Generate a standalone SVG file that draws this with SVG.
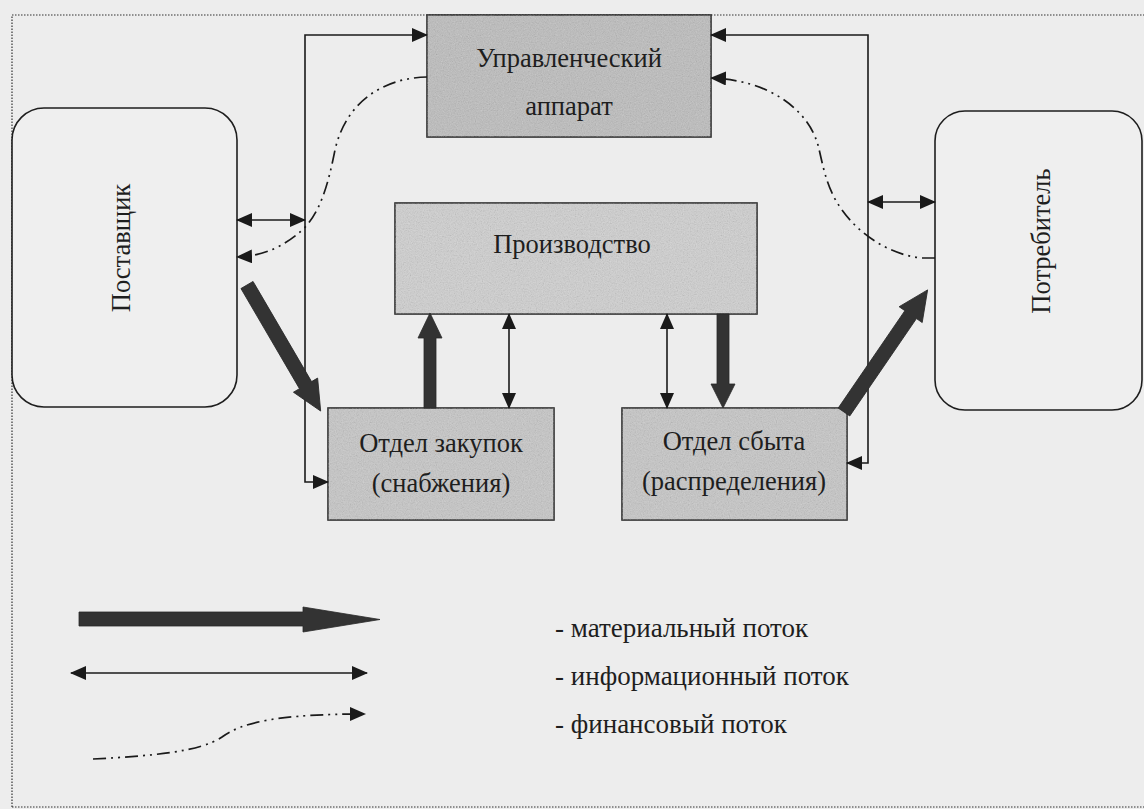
<svg xmlns="http://www.w3.org/2000/svg" width="1144" height="809" viewBox="0 0 1144 809">
  <defs>
    <style>
      .lbl { font-family: "Liberation Serif", "Times New Roman", serif; font-size: 26.5px; fill: #1e1e1e; }
      .leg { font-family: "Liberation Serif", "Times New Roman", serif; font-size: 27px; fill: #1e1e1e; }
      .box { stroke: #2a2a2a; stroke-width: 1.6; }
      .rnd { fill: #efefef; stroke: #1e1e1e; stroke-width: 1.6; }
      .info { fill: none; stroke: #1a1a1a; stroke-width: 1.6; marker-start: url(#ah); marker-end: url(#ah); }
      .fin { fill: none; stroke: #1a1a1a; stroke-width: 1.7; stroke-dasharray: 13 5 2 5 2 5; marker-end: url(#ah); }
      .mat { fill: #333333; stroke: #2a2a2a; stroke-width: 0.8; }
      .frame { fill: none; stroke: #333; stroke-width: 1.2; stroke-dasharray: 1.5 1.5; }
    </style>
    <marker id="ah" viewBox="0 0 16 14" refX="15" refY="7" markerWidth="16" markerHeight="14" markerUnits="userSpaceOnUse" orient="auto-start-reverse">
      <path d="M0,0 L16,7 L0,14 z" fill="#1a1a1a"/>
    </marker>
    <filter id="grain" x="0" y="0" width="1" height="1">
      <feTurbulence type="fractalNoise" baseFrequency="0.85" numOctaves="2" seed="4" result="n"/>
      <feColorMatrix in="n" type="saturate" values="0" result="g"/>
      <feComponentTransfer in="g" result="ga">
        <feFuncA type="table" tableValues="0 0.45"/>
      </feComponentTransfer>
      <feComposite in="ga" in2="SourceGraphic" operator="in"/>
    </filter>
  </defs>

  <rect x="0" y="0" width="1144" height="809" fill="#ededed"/>
  <path class="frame" d="M12,807 V15 H1144"/>
  <path class="frame" d="M12,807 H1144"/>

  <g id="node-upravl">
    <rect class="box" x="427" y="15" width="284" height="122" fill="#bcbcbc"/>
    <rect x="427" y="15" width="284" height="122" fill="#000" filter="url(#grain)"/>
    <text class="lbl" x="569" y="67" text-anchor="middle">Управленческий</text>
    <text class="lbl" x="569" y="115" text-anchor="middle">аппарат</text>
  </g>

  <g id="node-postavshik">
    <rect class="rnd" x="12" y="108" width="225" height="299" rx="32" ry="32"/>
    <text class="lbl" transform="translate(130,248) rotate(-90)" text-anchor="middle">Поставщик</text>
  </g>

  <g id="node-potrebitel">
    <rect class="rnd" x="935" y="111" width="207" height="299" rx="30" ry="30"/>
    <text class="lbl" transform="translate(1050,241) rotate(-90)" text-anchor="middle">Потребитель</text>
  </g>

  <g id="node-proizvodstvo">
    <rect class="box" x="395" y="203" width="362" height="111" fill="#d0d0d0"/>
    <rect x="395" y="203" width="362" height="111" fill="#000" filter="url(#grain)"/>
    <text class="lbl" x="572" y="253" text-anchor="middle">Производство</text>
  </g>

  <g id="node-zakupok">
    <rect class="box" x="328" y="408" width="226" height="112" fill="#c6c6c6"/>
    <rect x="328" y="408" width="226" height="112" fill="#000" filter="url(#grain)"/>
    <text class="lbl" x="441" y="452" text-anchor="middle">Отдел закупок</text>
    <text class="lbl" x="441" y="492" text-anchor="middle">(снабжения)</text>
  </g>

  <g id="node-sbyta">
    <rect class="box" x="622" y="408" width="225" height="112" fill="#c6c6c6"/>
    <rect x="622" y="408" width="225" height="112" fill="#000" filter="url(#grain)"/>
    <text class="lbl" x="734" y="450" text-anchor="middle">Отдел сбыта</text>
    <text class="lbl" x="734" y="490" text-anchor="middle">(распределения)</text>
  </g>

  <g id="connectors">
    <!-- information flows -->
    <path class="info" d="M427,35 H305 V482 H328"/>
    <path class="info" d="M237,220 H305"/>
    <path class="info" d="M711,35 H868 V463 H847"/>
    <path class="info" d="M868,202 H935"/>
    <path class="info" d="M509,314 V408"/>
    <path class="info" d="M667,314 V408"/>
    <!-- financial flows -->
    <path class="fin" d="M427,77 C380,78 345,105 335,150 C328,185 320,215 300,232 C285,245 265,256 237,257"/>
    <path class="fin" d="M935,258 L922,258 C890,255 860,235 842,210 C826,188 823,165 818,145 C808,110 770,80 711,78"/>
    <!-- material flows -->
    <polygon class="mat" transform="translate(247,285) rotate(59.7)" points="0,-7 116,-7 116,-14 146,0 116,14 116,7 0,7"/>
    <polygon class="mat" transform="translate(430,408) rotate(-90)" points="0,-6 70,-6 70,-12 95,0 70,12 70,6 0,6"/>
    <polygon class="mat" transform="translate(723,314) rotate(90)" points="0,-6 70,-6 70,-12 94,0 70,12 70,6 0,6"/>
    <polygon class="mat" transform="translate(844,412) rotate(-55.6)" points="0,-7 118,-7 118,-14 148,0 118,14 118,7 0,7"/>
  </g>

  <g id="legend">
    <polygon class="mat" points="79,612 303,612 303,607 380,619.5 303,632 303,626 79,626"/>
    <path class="info" d="M71,673 H367"/>
    <path class="fin" d="M93,759 C150,756 200,752 222,737 C242,722 280,714 365,714"/>
    <text class="leg" x="555" y="637">- материальный поток</text>
    <text class="leg" x="555" y="685">- информационный поток</text>
    <text class="leg" x="555" y="733">- финансовый поток</text>
  </g>
</svg>
